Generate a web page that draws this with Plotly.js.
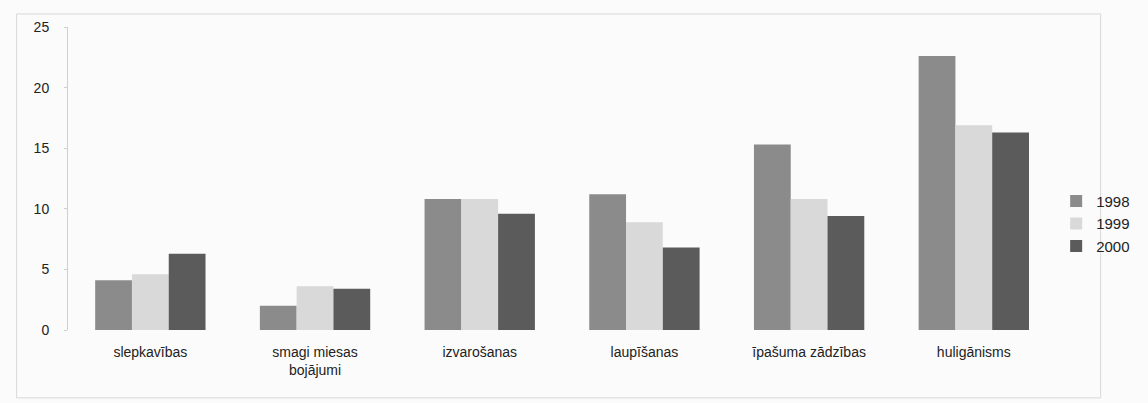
<!DOCTYPE html>
<html><head><meta charset="utf-8">
<script src="https://cdn.plot.ly/plotly-3.0.1.min.js"></script>
<style>html,body{margin:0;padding:0;background:#fbfbfb;}#c{width:1148px;height:403px;}</style>
</head><body><div id="c"></div>
<script>
const categories = ["slepkavības", "smagi miesas<br>bojājumi", "izvarošanas", "laupīšanas", "īpašuma zādzības", "huligānisms"];
const years = ["1998", "1999", "2000"];
const v1998 = [4.1, 2.0, 10.8, 11.2, 15.3, 22.6];
const v1999 = [4.6, 3.6, 10.8, 8.9, 10.8, 16.9];
const v2000 = [6.3, 3.4, 9.6, 6.8, 9.4, 16.3];
const colors = ["#8b8b8b", "#d9d9d9", "#5b5b5b"];
const series = [v1998, v1999, v2000];

const traces = series.map((vals, i) => ({
  type: "bar", name: years[i], x: categories, y: vals,
  marker: {color: colors[i], line: {width: 0}}
}));

const layout = {
  width: 1148, height: 403,
  paper_bgcolor: "#fbfbfb", plot_bgcolor: "#fbfbfb",
  margin: {l: 68, r: 90, t: 27, b: 73},
  barmode: "group", bargap: 0.33, bargroupgap: 0,
  font: {family: "Liberation Sans, Arial, sans-serif", size: 14, color: "#222"},
  xaxis: {showline: false, ticks: "", tickfont: {size: 14}, fixedrange: true,
          ticklabelstandoff: 12},
  yaxis: {range: [0, 25], dtick: 5, showgrid: false, zeroline: false,
          showline: true, linecolor: "#cfcfcf", linewidth: 1,
          ticks: "outside", ticklen: 3, tickcolor: "#cfcfcf",
          tickfont: {size: 14}, ticklabelstandoff: 12},
  showlegend: true,
  legend: {xref: "container", yref: "container", x: 0.92, xanchor: "left",
           y: 0.445, yanchor: "middle",
           font: {size: 15}, bgcolor: "rgba(0,0,0,0)",
           itemwidth: 30, tracegroupgap: 0},
  shapes: [{type: "rect", xref: "paper", yref: "paper",
            x0: -0.052, x1: 1.045, y0: -0.224, y1: 1.043,
            line: {color: "#d8d8d8", width: 1}}]
};
Plotly.newPlot("c", traces, layout, {displayModeBar: false, staticPlot: true});
</script></body></html>
